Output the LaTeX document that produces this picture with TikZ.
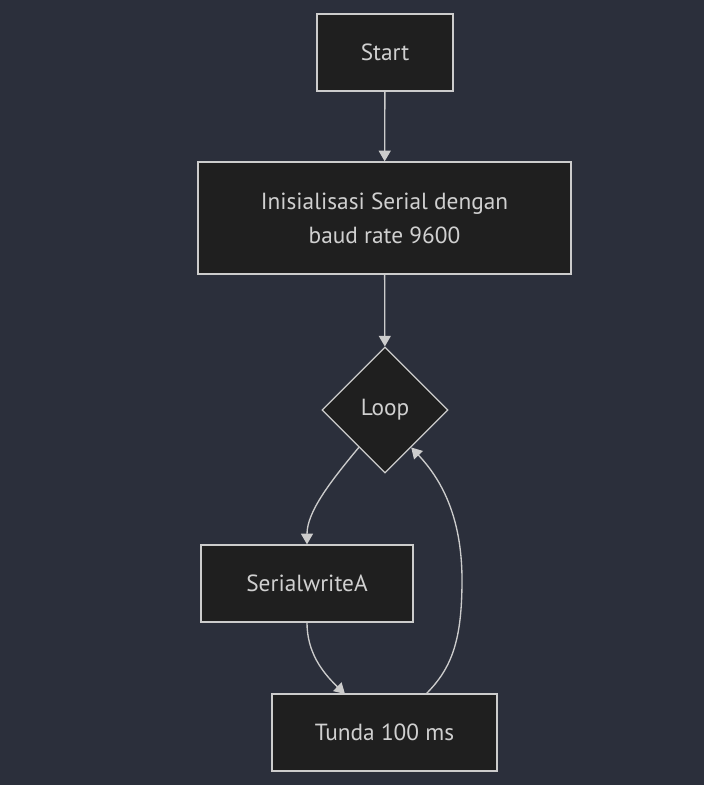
\documentclass[tikz,border=0pt]{standalone}
\usepackage{fontspec}
\setmainfont{PT Sans}
\usetikzlibrary{arrows.meta,shapes.geometric}
\definecolor{bgc}{HTML}{2B2F3B}
\definecolor{boxc}{HTML}{1F1F1F}
\definecolor{edgec}{HTML}{CCCCCC}
\definecolor{txtc}{HTML}{D0D0D0}

\begin{document}
\begin{tikzpicture}[x=0.75pt,y=-0.75pt,
  stepbox/.style={draw=edgec,fill=boxc,line width=1pt,text=txtc,inner sep=0pt,
    font=\fontsize{17.5}{25.5}\selectfont,align=center},
  decide/.style={diamond,draw=edgec,fill=boxc,line width=1pt,text=txtc,
    inner sep=0pt,minimum width=94.5pt,minimum height=94.5pt,
    font=\fontsize{17.5}{25.5}\selectfont},
  arr/.style={draw=edgec,line width=1pt,-{Triangle[length=8pt,width=9pt]}}]
\fill[bgc] (0,0) rectangle (704,785);
\useasboundingbox (0,0) rectangle (704,785);
% nodes
\node[stepbox,minimum width=102pt,minimum height=57.75pt] (start) at (385,52.5) {Start};
\node[stepbox,minimum width=279.75pt,minimum height=84pt] (init) at (384.5,218)
  {Inisialisasi Serial dengan\\ baud rate 9600};
\node[decide] (loop) at (385,410) {\raisebox{-2pt}{Loop}};
\node[stepbox,minimum width=159pt,minimum height=57.75pt] (write) at (307,583.5) {SerialwriteA};
\node[stepbox,minimum width=168.75pt,minimum height=57.75pt] (delay) at (384.5,732.5) {Tunda 100 ms};
% edges
\draw[arr] (start) -- (init);
\draw[arr] (init) -- (loop);
\draw[arr] (loop.235) .. controls (330,482) and (307,512) .. (write.north);
\draw[arr] (write.south) .. controls (307,652) and (322,672) .. (345,694);
\draw[arr] (426,694) .. controls (452,668) and (462,640) .. (462,580)
  .. controls (462,515) and (440,478) .. (loop.-55);
\end{tikzpicture}
\end{document}
